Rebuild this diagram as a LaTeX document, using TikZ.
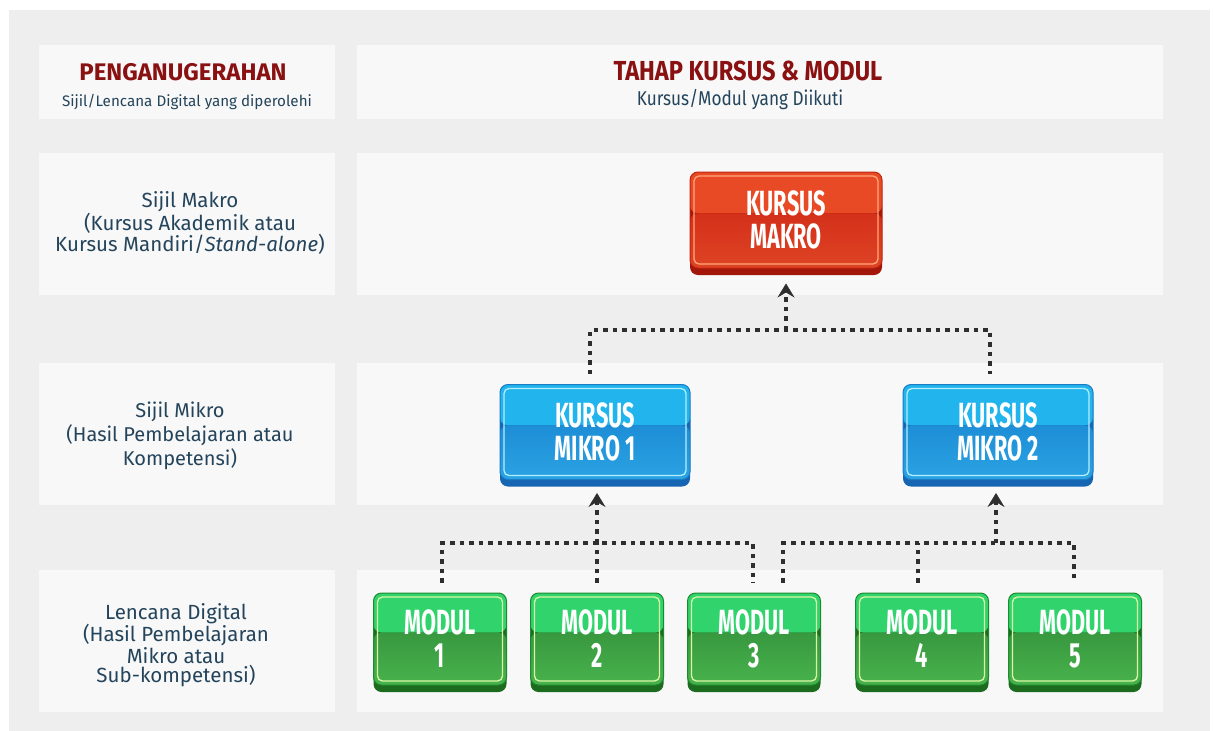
\documentclass[tikz,border=0pt]{standalone}
\usepackage{fontspec}
\setmainfont{Fira Sans}
\newfontfamily\btnfont[FakeStretch=0.62]{Fira Sans}
\newfontfamily\condfont[FakeStretch=0.86]{Fira Sans}
\usepackage{tikz}
\usetikzlibrary{arrows.meta,calc}
\definecolor{bggray}{HTML}{EEEEEE}
\definecolor{panel}{HTML}{F8F8F8}
\definecolor{titlered}{HTML}{8A1111}
\definecolor{lbltxt}{HTML}{24445B}
\definecolor{linkc}{HTML}{2E2E2E}
\definecolor{redhi}{HTML}{E84A26}
\definecolor{redlo}{HTML}{D4301A}
\definecolor{redbt}{HTML}{DE4424}
\definecolor{reddk}{HTML}{A3170B}
\definecolor{redrim}{HTML}{FFA77A}
\definecolor{redln}{HTML}{C22510}
\definecolor{bluhi}{HTML}{22B4EC}
\definecolor{blulo}{HTML}{1E8ED6}
\definecolor{blubt}{HTML}{2AA3E3}
\definecolor{bludk}{HTML}{1665B2}
\definecolor{blurim}{HTML}{B5EEFF}
\definecolor{bluln}{HTML}{1A7BC6}
\definecolor{grnhi}{HTML}{30D36C}
\definecolor{grnlo}{HTML}{38983F}
\definecolor{grnbt}{HTML}{48B34C}
\definecolor{grndk}{HTML}{1D6B1E}
\definecolor{grnrim}{HTML}{DAF7A6}
\definecolor{grnln}{HTML}{1E8A30}
\tikzset{
  btn/.style={draw=#1ln,line width=1pt,rounded corners=8pt,inner sep=0pt,align=center,
    text=white,font=\btnfont\bfseries\fontsize{35pt}{33pt}\selectfont,
    preaction={fill=#1dk,transform canvas={yshift=-7pt}},
    path picture={
      \fill[#1hi](path picture bounding box.north west)rectangle($(path picture bounding box.north east)!0.43!(path picture bounding box.south east)$);
      \shade[top color=#1lo,bottom color=#1bt]($(path picture bounding box.north west)!0.43!(path picture bounding box.south west)$)rectangle(path picture bounding box.south east);
      \draw[#1rim,line width=1.3pt,rounded corners=5pt]([shift={(4pt,-4pt)}]path picture bounding box.north west)rectangle([shift={(-4pt,4pt)}]path picture bounding box.south east);
    }},
  link/.style={draw=linkc,line width=4.5pt,dash pattern=on 4.5pt off 5pt},
  linkarrow/.style={-{Stealth[length=14pt,width=17pt,inset=5pt,line width=0.6pt]}},
  lbl/.style={align=center,text=lbltxt}
}
\begin{document}
\begin{tikzpicture}[x=1pt,y=-1pt]
\useasboundingbox(0,0)rectangle(1213,731);
\fill[white](0,0)rectangle(1213,731);
\fill[bggray](9,10)rectangle(1210,731);
%panels
\fill[panel](39,45)rectangle(335,119);
\fill[panel](357,45)rectangle(1163,119);
\fill[panel](39,153)rectangle(335,295);
\fill[panel](357,153)rectangle(1163,295);
\fill[panel](39,363)rectangle(335,505);
\fill[panel](357,363)rectangle(1163,505);
\fill[panel](39,570)rectangle(335,712);
\fill[panel](357,570)rectangle(1163,712);
%headers
\node[font=\bfseries\fontsize{24pt}{26pt}\selectfont,text=titlered](hdA)at(183,72){PENGANUGERAHAN};
\node[font=\fontsize{15.2pt}{17pt}\selectfont,text=lbltxt](hdAsub)at(187,102){Sijil/Lencana Digital yang diperolehi};
\node[font=\condfont\bfseries\fontsize{27.5pt}{30pt}\selectfont,text=titlered](hdB)at(748,71){TAHAP KURSUS \& MODUL};
\node[font=\condfont\fontsize{20pt}{22pt}\selectfont,text=lbltxt](hdBsub)at(740,100){Kursus/Modul yang Diikuti};
%row labels
\node[lbl,font=\fontsize{20.5pt}{21.5pt}\selectfont](labA)at(190,223){Sijil Makro\\(Kursus Akademik atau\\Kursus Mandiri/\textit{Stand-alone})};
\node[lbl,font=\fontsize{20pt}{24pt}\selectfont](labB)at(180,436){Sijil Mikro\\(Hasil Pembelajaran atau\\Kompetensi)};
\node[lbl,font=\fontsize{20.5pt}{19.5pt}\selectfont](labC)at(176,645){Lencana Digital\\(Hasil Pembelajaran\\Mikro atau\\Sub-kompetensi)};
%courses
\node[btn=red,minimum width=192pt,minimum height=96pt](mak)at(786,220){KURSUS\\MAKRO};
\node[btn=blu,minimum width=190pt,minimum height=95pt](mik1)at(595,432){KURSUS\\MIKRO 1};
\node[btn=blu,minimum width=190pt,minimum height=95pt](mik2)at(998,432){KURSUS\\MIKRO 2};
%modules
\node[btn=grn,minimum width=133pt,minimum height=92pt](mod1)at(440,639){MODUL\\1};
\node[btn=grn,minimum width=133pt,minimum height=92pt](mod2)at(597,639){MODUL\\2};
\node[btn=grn,minimum width=133pt,minimum height=92pt](mod3)at(754,639){MODUL\\3};
\node[btn=grn,minimum width=133pt,minimum height=92pt](mod4)at(922,639){MODUL\\4};
\node[btn=grn,minimum width=133pt,minimum height=92pt](mod5)at(1075,639){MODUL\\5};
%links micro -> macro
\coordinate(jA)at(786,330);
\draw[link]($(mik1.north)+(-5,-10)$)|-(jA)-|($(mik2.north)+(-8,-10)$);
\draw[link,linkarrow](jA)--($(mak.south)+(0,15)$);
%links modules -> micro 1
\coordinate(jB)at(597,543);
\draw[link]($(mod1.north)+(2,-10)$)|-(jB)-|($(mod3.north)+(-1,-10)$);
\draw[link]($(mod2.north)+(0,-10)$)--(jB);
\draw[link,linkarrow](jB)--($(mik1.south)+(2,13)$);
%links modules -> micro 2
\coordinate(jC)at(996,543);
\draw[link]($(mod3.north)+(29,-10)$)|-(jC)-|($(mod5.north)+(-1,-10)$);
\draw[link]($(mod4.north)+(-4,-10)$)--++(0,-40);
\draw[link,linkarrow](jC)--($(mik2.south)+(-2,13)$);
\end{tikzpicture}
\end{document}
